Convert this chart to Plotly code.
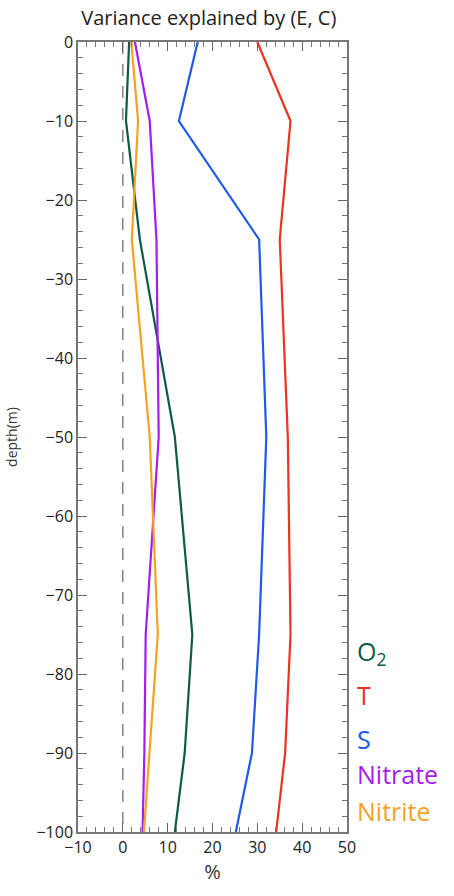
import plotly.graph_objects as go

depth = [0, -10, -25, -50, -75, -90, -100]
o2 = [1.4, 0.7, 3.8, 11.6, 15.5, 13.8, 11.6]
temp = [30.0, 37.4, 35.0, 36.8, 37.4, 36.2, 34.2]
sal = [16.7, 12.5, 30.4, 32.0, 30.4, 28.8, 25.2]
nitrate = [2.7, 6.0, 7.5, 8.0, 5.1, 4.8, 4.4]
nitrite = [1.9, 3.4, 2.0, 6.0, 7.8, 6.0, 4.7]
zero_line_x = [0, 0]
zero_line_y = [0, -100]

series = [
    ("O<sub>2</sub>", o2, "#0e5a48"),
    ("T", temp, "#ec3220"),
    ("S", sal, "#2058ec"),
    ("Nitrate", nitrate, "#a41cf0"),
    ("Nitrite", nitrite, "#f6a221"),
]
legend_depths = [-77.3, -82.6, -88.2, -92.7, -97.4]

fig = go.Figure()
fig.add_trace(go.Scatter(x=zero_line_x, y=zero_line_y, mode="lines",
                         line=dict(color="#666666", width=1.2, dash="12px,10px"),
                         showlegend=False, hoverinfo="skip"))
for name, vals, col in series:
    fig.add_trace(go.Scatter(x=vals, y=depth, mode="lines", name=name,
                             line=dict(color=col, width=2.2), showlegend=False))

for (name, vals, col), yd in zip(series, legend_depths):
    fig.add_annotation(x=1.03, xref="paper", y=yd, yref="y", text=name,
                       showarrow=False, xanchor="left", yanchor="middle",
                       font=dict(size=25, color=col, family="Open Sans"))

axis_common = dict(
    showline=True, linecolor="#777777", linewidth=1.5, mirror="allticks",
    ticks="inside", ticklen=9, tickcolor="#666666", tickwidth=1.2,
    showgrid=False, zeroline=False, automargin=False,
    tickfont=dict(size=16, color="#222222", family="Open Sans"),
    minor=dict(ticks="inside", ticklen=5, tickcolor="#777777", tickwidth=1.1,
               dtick=2, showgrid=False),
)

fig.update_layout(
    width=454, height=896,
    margin=dict(l=78, r=107, t=42, b=64),
    plot_bgcolor="white", paper_bgcolor="white",
    title=dict(text="Variance explained by (E, C)", xref="container", x=0.46, xanchor="center",
               y=0.98, yanchor="middle",
               font=dict(size=20, color="#222222", family="Open Sans")),
    xaxis=dict(range=[-10, 50], dtick=10, tick0=0,
               title=dict(text="%", font=dict(size=20, color="#333333", family="Open Sans"), standoff=4),
               **axis_common),
    yaxis=dict(range=[-100, 0], dtick=10, tick0=0,
               title=dict(text="depth(m)", font=dict(size=14, color="#333333", family="Open Sans"), standoff=16),
               **axis_common),
)

fig.write_html("out.html", config={"displayModeBar": False},
               post_script="document.body.style.margin='0px';document.body.style.overflow='hidden';")
